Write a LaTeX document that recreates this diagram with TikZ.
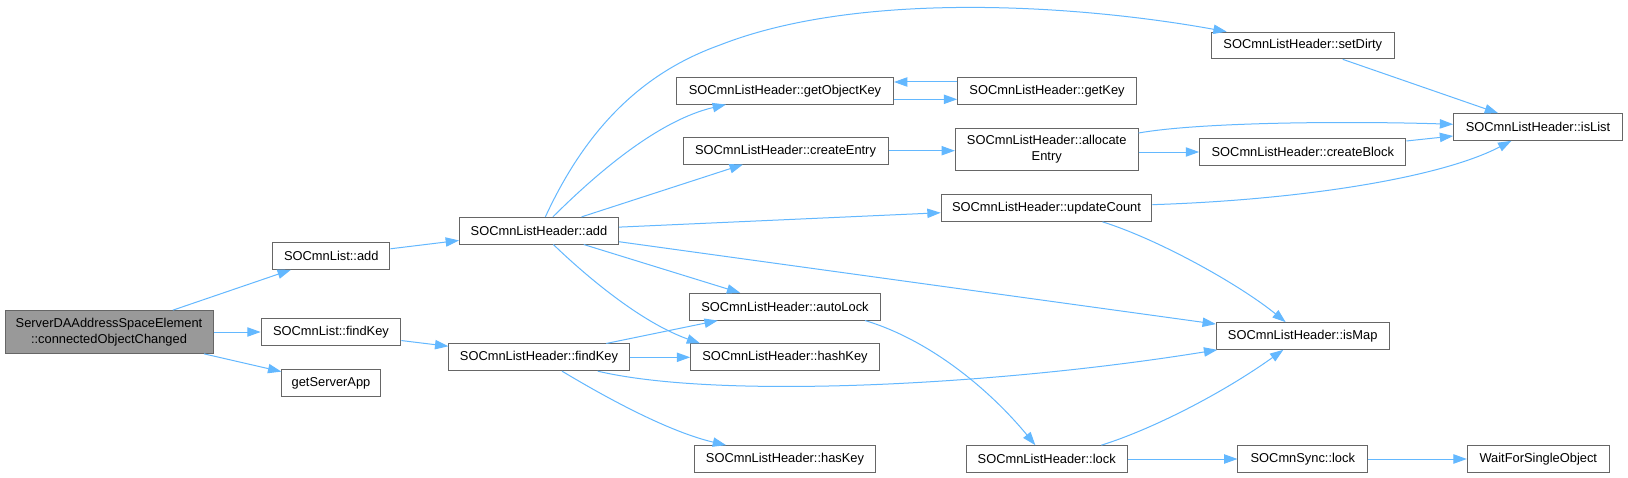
\documentclass[tikz,border=0pt]{standalone}
\usepackage{fontspec}
\setmainfont{Liberation Sans}
\usetikzlibrary{arrows.meta}
\definecolor{edgec}{HTML}{63B8FF}
\definecolor{bordc}{HTML}{666666}
\definecolor{rootc}{HTML}{999999}
\begin{document}
\begin{tikzpicture}[x=0.75pt,y=-0.75pt,
  box/.style={draw=bordc, fill=white, line width=0.75pt, inner sep=0pt,
    minimum height=20pt, align=center, font=\fontsize{9.65}{12}\selectfont},
  tall/.style={minimum height=32pt},
  rootbox/.style={fill=rootc},
  edge/.style={draw=edgec, line width=0.75pt, -{Triangle[length=10pt,width=7pt]}},
]
\fill[white] (0,0) rectangle (1628,478);
\useasboundingbox (0,0) rectangle (1628,478);

% nodes
\node[box,tall,rootbox,minimum width=156pt] (main) at (109,332) {ServerDAAddressSpaceElement\\::connectedObjectChanged};
\node[box,minimum width=88pt] (lAdd) at (331.3,256) {SOCmnList::add};
\node[box,minimum width=104.75pt] (lFind) at (331,332) {SOCmnList::findKey};
\node[box,minimum width=73.75pt] (gsa) at (331,383) {getServerApp};
\node[box,minimum width=119.25pt] (hAdd) at (539,230.7) {SOCmnListHeader::add};
\node[box,minimum width=135.25pt] (hFind) at (539,357.3) {SOCmnListHeader::findKey};
\node[box,minimum width=162.75pt] (gok) at (785,90.7) {SOCmnListHeader::getObjectKey};
\node[box,minimum width=153.75pt] (cre) at (785.5,150.7) {SOCmnListHeader::createEntry};
\node[box,minimum width=142.75pt] (alk) at (785,306.7) {SOCmnListHeader::autoLock};
\node[box,minimum width=141.5pt] (hsk) at (785,357.3) {SOCmnListHeader::hashKey};
\node[box,minimum width=136.25pt] (hask) at (785,459) {SOCmnListHeader::hasKey};
\node[box,minimum width=134pt] (gk) at (1047,91) {SOCmnListHeader::getKey};
\node[box,tall,minimum width=137pt] (ale) at (1046.7,149.5) {SOCmnListHeader::allocate\\Entry};
\node[box,minimum width=158pt] (upc) at (1046.5,208) {SOCmnListHeader::updateCount};
\node[box,minimum width=121pt] (hlk) at (1046.7,459) {SOCmnListHeader::lock};
\node[box,minimum width=137.25pt] (sd) at (1302.8,45.5) {SOCmnListHeader::setDirty};
\node[box,minimum width=154.75pt] (cb) at (1302.8,152) {SOCmnListHeader::createBlock};
\node[box,minimum width=129.5pt] (ism) at (1302.7,336) {SOCmnListHeader::isMap};
\node[box,minimum width=97.25pt] (slk) at (1302.8,459) {SOCmnSync::lock};
\node[box,minimum width=126.5pt] (isl) at (1538,127) {SOCmnListHeader::isList};
\node[box,minimum width=106.5pt] (wfs) at (1538.3,459) {WaitForSingleObject};

% edges
\draw[edge] (main) -- (lAdd);
\draw[edge] (main) -- (lFind);
\draw[edge] (main) -- (gsa);
\draw[edge] (lAdd) -- (hAdd);
\draw[edge] (lFind) -- (hFind);
\draw[edge] (hAdd) .. controls (590,120) and (650,70) .. (720,45)
                   .. controls (860,-10) and (1080,5) .. (sd);
\draw[edge] (hAdd) .. controls (600,170) and (660,120) .. (gok);
\draw[edge] (hAdd) -- (cre);
\draw[edge] (hAdd) -- (upc);
\draw[edge] (hAdd) -- (alk);
\draw[edge] (hAdd) .. controls (585,275) and (640,322) .. ([xshift=7.5pt]hsk.north west);
\draw[edge] (hAdd) -- (ism);
\draw[edge] ([yshift=-6.45pt]gok.east) -- ([yshift=-6.45pt]gok.east -| gk.west);
\draw[edge] ([yshift=6.75pt]gk.west) -- ([yshift=6.75pt]gk.west -| gok.east);
\draw[edge] (cre.east) -- (cre.east -| ale.west);
\draw[edge] (ale) .. controls (1200,122) and (1350,121) .. (isl);
\draw[edge] (cb.west -| ale.east) -- (cb.west);
\draw[edge] (cb) -- (isl);
\draw[edge] (sd) -- (isl);
\draw[edge] (upc) .. controls (1300,200) and (1440,178) .. (isl);
\draw[edge] ([xshift=42pt]upc.south) .. controls (1160,240) and (1240,285) .. (ism);
\draw[edge] (hFind) -- (alk);
\draw[edge] (hFind) -- (hsk);
\draw[edge] (hFind) .. controls (720,400) and (1000,385) .. (ism);
\draw[edge] (hFind) .. controls (610,400) and (670,432) .. (hask);
\draw[edge] ([xshift=60pt]alk.south) .. controls (930,340) and (990,390) .. (hlk);
\draw[edge] ([xshift=41pt]hlk.north) .. controls (1150,430) and (1220,395) .. (ism);
\draw[edge] (hlk) -- (slk);
\draw[edge] (slk) -- (wfs);
\end{tikzpicture}
\end{document}
